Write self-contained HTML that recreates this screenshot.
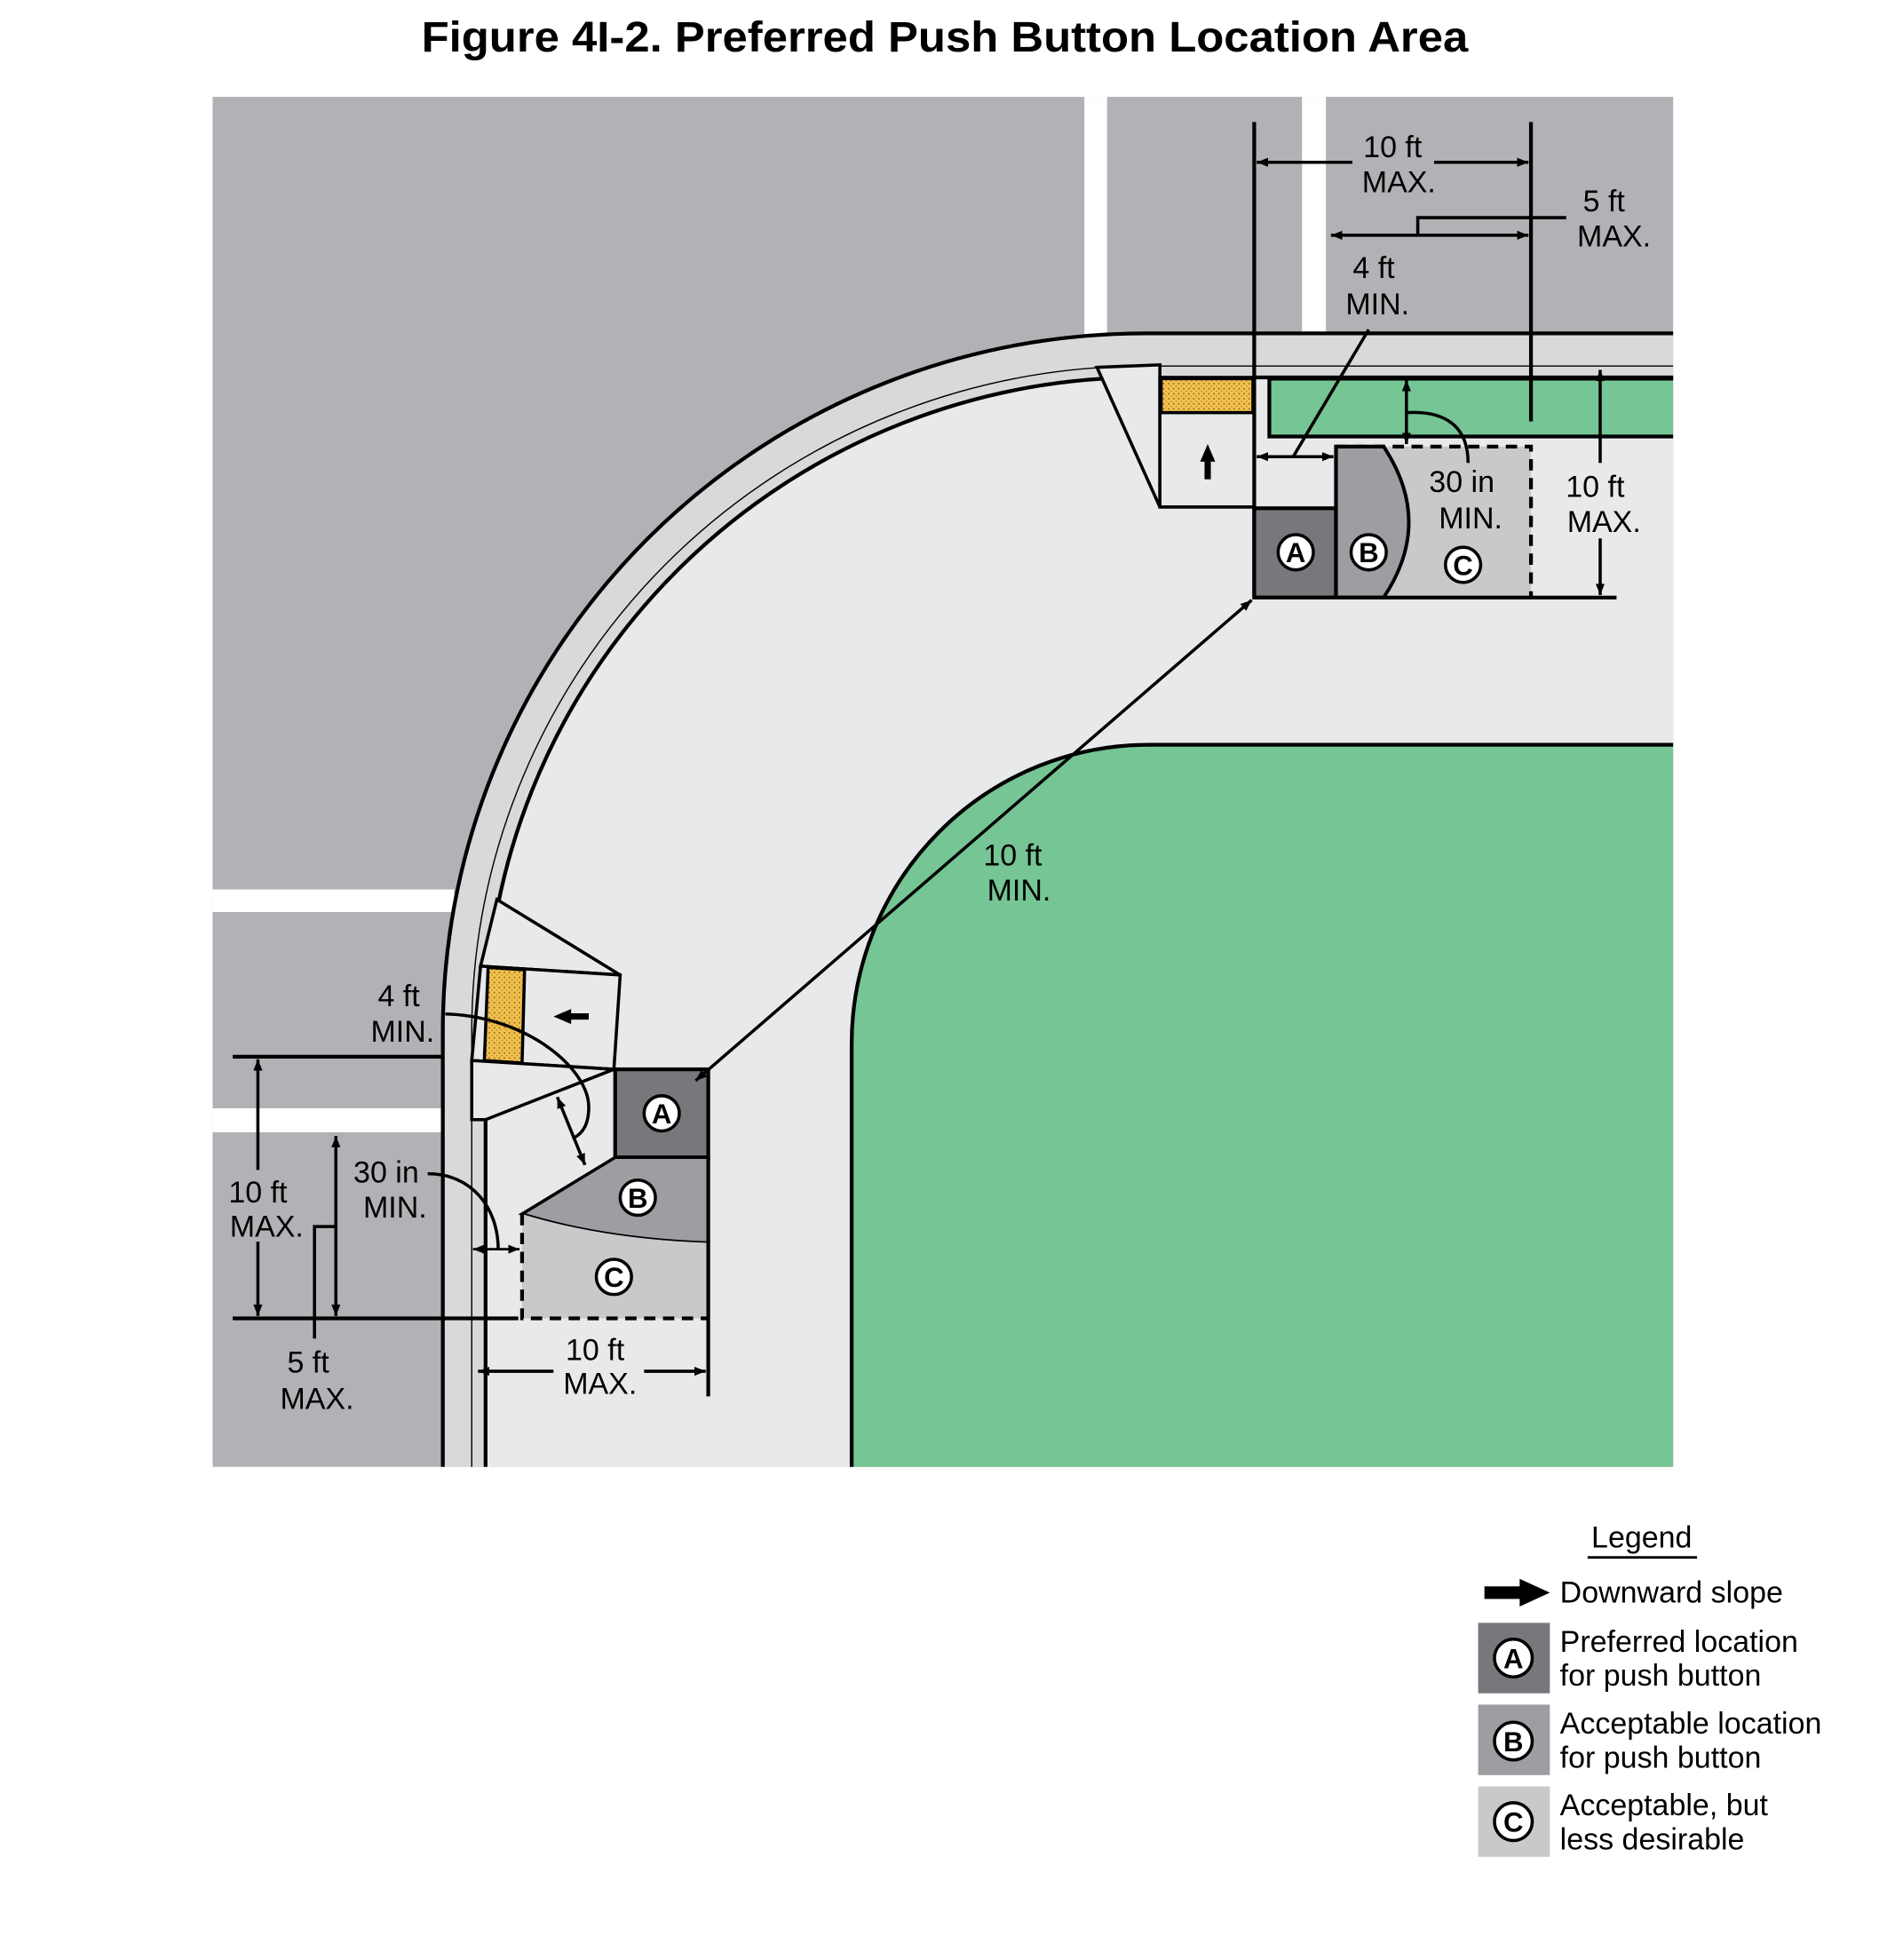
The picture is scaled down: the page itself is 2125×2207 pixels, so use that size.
<!DOCTYPE html>
<html><head><meta charset="utf-8"><style>
html,body{margin:0;padding:0;background:#fff;}
svg{display:block;}
text{font-family:"Liberation Sans",sans-serif;fill:#000;}
</style></head><body>
<svg width="2125" height="2207" viewBox="0 0 1500 1558" preserveAspectRatio="none" xmlns="http://www.w3.org/2000/svg">
<defs>
<marker id="ah" viewBox="0 0 10 10" refX="10" refY="5" markerWidth="9" markerHeight="9" markerUnits="userSpaceOnUse" orient="auto-start-reverse"><path d="M0,1 L10,5 L0,9 Z" fill="#000"/></marker>
<pattern id="dots" width="4" height="4" patternUnits="userSpaceOnUse"><rect width="4" height="4" fill="#f2c14e"/><circle cx="1" cy="1" r="0.7" fill="#8a6a20"/><circle cx="3" cy="3" r="0.6" fill="#b08a30"/></pattern>
</defs>
<text x="751" y="41" font-size="34" font-weight="bold" text-anchor="middle" textLength="832" lengthAdjust="spacingAndGlyphs">Figure 4I-2.  Preferred Push Button Location Area</text>

<!-- road background -->
<rect x="169" y="77" width="1161" height="1089" fill="#b1b2b5"/>
<rect x="862" y="77" width="18" height="190" fill="#fff"/>
<rect x="1035" y="77" width="19" height="190" fill="#fff"/>
<rect x="169" y="707" width="192" height="18" fill="#fff"/>
<rect x="169" y="881" width="185" height="19" fill="#fff"/>

<!-- curb band + sidewalk -->
<path d="M910,265 L1330,265 L1330,1166 L352,1166 L352,820 A558,555 0 0 1 910,265 Z" fill="#d8d9db"/>
<path d="M1330,265 L910,265 A558,555 0 0 0 352,820 L352,1166" fill="none" stroke="#000" stroke-width="3"/>
<path d="M922,300 L1330,300 L1330,1166 L386,1166 L386,820 A524,520 0 0 1 910,300 Z" fill="#e8e9eb"/>
<path d="M386,1166 L386,820 A524,520 0 0 1 910,300 L922,300" fill="none" stroke="#000" stroke-width="3"/>
<path d="M375,1166 L375,820 A535,529 0 0 1 910,291 L1330,291" fill="none" stroke="#000" stroke-width="1"/>
<line x1="996" y1="300" x2="1330" y2="300" stroke="#000" stroke-width="3"/>

<!-- green areas -->
<path d="M1330,301 L1009,301 L1009,347 L1330,347" fill="#76c595" stroke="#000" stroke-width="3"/>
<path d="M677,1166 L677,830 A236,238 0 0 1 913,592 L1330,592 L1330,1166 Z" fill="#76c595"/>
<path d="M677,1166 L677,830 A236,238 0 0 1 913,592 L1330,592" fill="none" stroke="#000" stroke-width="3"/>

<!-- top ramp -->
<path d="M872,292 L922,290 L922,403 Z" fill="#e8e9eb" stroke="#000" stroke-width="2.5"/>
<rect x="922" y="300" width="75" height="103" fill="#e8e9eb" stroke="#000" stroke-width="2.5"/>
<rect x="923" y="301" width="73" height="27" fill="url(#dots)" stroke="#000" stroke-width="2.5"/>
<rect x="998" y="349" width="63" height="54" fill="#e8e9eb"/>
<path d="M960,381 L960,365" stroke="#000" stroke-width="5"/><path d="M954,367 L960,353 L966,367 Z" fill="#000"/>

<!-- top A B C -->
<rect x="997" y="404" width="65" height="71" fill="#77787c" stroke="#000" stroke-width="3"/>
<path d="M1062,355 L1100,355 Q1140,415 1100,475 L1062,475 Z" fill="#9d9ea2" stroke="#000" stroke-width="3"/>
<path d="M1100,355 L1217,355 L1217,475 L1100,475 Q1140,415 1100,355 Z" fill="#c8c9cb"/>
<path d="M1100,475 Q1140,415 1100,355" fill="none" stroke="#000" stroke-width="2.5"/>
<path d="M1062,355 L1217,355 L1217,475" fill="none" stroke="#000" stroke-width="3" stroke-dasharray="9,6"/>
<line x1="997" y1="475" x2="1285" y2="475" stroke="#000" stroke-width="3"/>
<line x1="922" y1="403" x2="997" y2="403" stroke="#000" stroke-width="2.5"/>

<!-- top dimensions -->
<line x1="997" y1="97" x2="997" y2="475" stroke="#000" stroke-width="3"/>
<line x1="1217" y1="97" x2="1217" y2="335" stroke="#000" stroke-width="3"/>
<line x1="999" y1="129" x2="1075" y2="129" stroke="#000" stroke-width="2.5" marker-start="url(#ah)"/>
<line x1="1140" y1="129" x2="1215" y2="129" stroke="#000" stroke-width="2.5" marker-end="url(#ah)"/>
<text x="1107" y="125" font-size="24" text-anchor="middle">10 ft</text>
<text x="1112" y="153" font-size="24" text-anchor="middle">MAX.</text>
<line x1="1058" y1="187" x2="1215" y2="187" stroke="#000" stroke-width="2.5" marker-start="url(#ah)" marker-end="url(#ah)"/>
<path d="M1127,187 L1127,173 L1245,173" fill="none" stroke="#000" stroke-width="2.5"/>
<text x="1275" y="168" font-size="24" text-anchor="middle">5 ft</text>
<text x="1283" y="196" font-size="24" text-anchor="middle">MAX.</text>
<text x="1092" y="221" font-size="24" text-anchor="middle">4 ft</text>
<text x="1095" y="250" font-size="24" text-anchor="middle">MIN.</text>
<line x1="1088" y1="262" x2="1028" y2="363" stroke="#000" stroke-width="2.5"/>
<line x1="999" y1="363" x2="1060" y2="363" stroke="#000" stroke-width="2.5" marker-start="url(#ah)" marker-end="url(#ah)"/>
<line x1="1118" y1="302" x2="1118" y2="353" stroke="#000" stroke-width="2.5" marker-start="url(#ah)" marker-end="url(#ah)"/>
<path d="M1118,328 C1150,326 1167,340 1167,368" fill="none" stroke="#000" stroke-width="2.5"/>
<text x="1162" y="391" font-size="24" text-anchor="middle">30 in</text>
<text x="1169" y="420" font-size="24" text-anchor="middle">MIN.</text>
<line x1="1272" y1="294" x2="1272" y2="368" stroke="#000" stroke-width="2.5" marker-start="url(#ah)"/>
<line x1="1272" y1="428" x2="1272" y2="473" stroke="#000" stroke-width="2.5" marker-end="url(#ah)"/>
<text x="1268" y="395" font-size="24" text-anchor="middle">10 ft</text>
<text x="1275" y="423" font-size="24" text-anchor="middle">MAX.</text>

<!-- left ramp -->
<path d="M395,715 L493,775 L382,768 Z" fill="#e8e9eb" stroke="#000" stroke-width="2.5"/>
<path d="M382,768 L493,775 L488,850 L375,843 Z" fill="#e8e9eb" stroke="#000" stroke-width="2.5"/>
<path d="M388,769 L417,771 L415,845 L385,843 Z" fill="url(#dots)" stroke="#000" stroke-width="2.5"/>
<path d="M452,808 L468,808" stroke="#000" stroke-width="5"/><path d="M454,802 L440,808 L454,814 Z" fill="#000"/>
<path d="M375,843 L488,850 L386,890 L375,890 Z" fill="#e8e9eb" stroke="#000" stroke-width="2.5"/>

<!-- left A B C -->
<rect x="489" y="850" width="74" height="70" fill="#77787c" stroke="#000" stroke-width="3"/>
<path d="M489,920 L563,920 L563,988 Q480,985 415,965 Z" fill="#9d9ea2" stroke="#000" stroke-width="2.5"/>
<path d="M415,965 Q480,985 563,988 L563,1048 L415,1048 Z" fill="#c8c9cb"/>
<path d="M415,965 L415,1048 L563,1048" fill="none" stroke="#000" stroke-width="3" stroke-dasharray="9,6"/>
<line x1="563" y1="920" x2="563" y2="1110" stroke="#000" stroke-width="3"/>

<!-- left dimensions -->
<line x1="185" y1="840" x2="352" y2="840" stroke="#000" stroke-width="3"/>
<line x1="185" y1="1048" x2="412" y2="1048" stroke="#000" stroke-width="3"/>
<text x="317" y="800" font-size="24" text-anchor="middle">4 ft</text>
<text x="320" y="828" font-size="24" text-anchor="middle">MIN.</text>
<path d="M354,806 C420,808 468,850 468,880 C468,895 462,902 455,905" fill="none" stroke="#000" stroke-width="2.5"/>
<line x1="443" y1="872" x2="465" y2="926" stroke="#000" stroke-width="2.5" marker-start="url(#ah)" marker-end="url(#ah)"/>
<line x1="205" y1="842" x2="205" y2="930" stroke="#000" stroke-width="2.5" marker-start="url(#ah)"/>
<line x1="205" y1="987" x2="205" y2="1046" stroke="#000" stroke-width="2.5" marker-end="url(#ah)"/>
<text x="205" y="956" font-size="24" text-anchor="middle">10 ft</text>
<text x="212" y="983" font-size="24" text-anchor="middle">MAX.</text>
<line x1="267" y1="903" x2="267" y2="1046" stroke="#000" stroke-width="2.5" marker-start="url(#ah)" marker-end="url(#ah)"/>
<path d="M267,975 L250,975 L250,1064" fill="none" stroke="#000" stroke-width="2.5"/>
<text x="245" y="1091" font-size="24" text-anchor="middle">5 ft</text>
<text x="252" y="1120" font-size="24" text-anchor="middle">MAX.</text>
<text x="307" y="940" font-size="24" text-anchor="middle">30 in</text>
<text x="314" y="968" font-size="24" text-anchor="middle">MIN.</text>
<path d="M340,933 C375,933 396,960 396,993" fill="none" stroke="#000" stroke-width="2.5"/>
<line x1="376" y1="993" x2="413" y2="993" stroke="#000" stroke-width="2" marker-start="url(#ah)" marker-end="url(#ah)"/>
<line x1="380" y1="1090" x2="440" y2="1090" stroke="#000" stroke-width="2.5" marker-start="url(#ah)"/>
<line x1="512" y1="1090" x2="561" y2="1090" stroke="#000" stroke-width="2.5" marker-end="url(#ah)"/>
<text x="473" y="1081" font-size="24" text-anchor="middle">10 ft</text>
<text x="477" y="1108" font-size="24" text-anchor="middle">MAX.</text>

<!-- diagonal 10 ft MIN -->
<line x1="553" y1="859" x2="995" y2="477" stroke="#000" stroke-width="2.5" marker-start="url(#ah)" marker-end="url(#ah)"/>
<text x="805" y="688" font-size="24" text-anchor="middle">10 ft</text>
<text x="810" y="716" font-size="24" text-anchor="middle">MIN.</text>

<!-- circle labels -->
<g font-weight="bold" font-size="22" text-anchor="middle">
<circle cx="1030" cy="439" r="14" fill="#fff" stroke="#000" stroke-width="2.5"/><text x="1030" y="447">A</text>
<circle cx="1088" cy="439" r="14" fill="#fff" stroke="#000" stroke-width="2.5"/><text x="1088" y="447">B</text>
<circle cx="1163" cy="449" r="14" fill="#fff" stroke="#000" stroke-width="2.5"/><text x="1163" y="457">C</text>
<circle cx="526" cy="885" r="14" fill="#fff" stroke="#000" stroke-width="2.5"/><text x="526" y="893">A</text>
<circle cx="507" cy="952" r="14" fill="#fff" stroke="#000" stroke-width="2.5"/><text x="507" y="960">B</text>
<circle cx="488" cy="1015" r="14" fill="#fff" stroke="#000" stroke-width="2.5"/><text x="488" y="1023">C</text>
</g>

<!-- legend -->
<text x="1305" y="1230" font-size="24" text-anchor="middle">Legend</text>
<line x1="1262" y1="1238" x2="1349" y2="1238" stroke="#000" stroke-width="2"/>
<rect x="1180" y="1261" width="30" height="10" fill="#000"/><path d="M1208,1255 L1232,1266 L1208,1277 Z" fill="#000"/>
<text x="1240" y="1274" font-size="24">Downward slope</text>
<rect x="1175" y="1290" width="57" height="56" fill="#77787c"/>
<rect x="1175" y="1355" width="57" height="56" fill="#9d9ea2"/>
<rect x="1175" y="1420" width="57" height="56" fill="#c8c9cb"/>
<g font-weight="bold" font-size="22" text-anchor="middle">
<circle cx="1203" cy="1318" r="15" fill="#fff" stroke="#000" stroke-width="2.5"/><text x="1203" y="1326">A</text>
<circle cx="1203" cy="1384" r="15" fill="#fff" stroke="#000" stroke-width="2.5"/><text x="1203" y="1392">B</text>
<circle cx="1203" cy="1448" r="15" fill="#fff" stroke="#000" stroke-width="2.5"/><text x="1203" y="1456">C</text>
</g>
<text x="1240" y="1313" font-size="24">Preferred location</text>
<text x="1240" y="1340" font-size="24">for push button</text>
<text x="1240" y="1378" font-size="24">Acceptable location</text>
<text x="1240" y="1405" font-size="24">for push button</text>
<text x="1240" y="1443" font-size="24">Acceptable, but</text>
<text x="1240" y="1470" font-size="24">less desirable</text>
</svg>
</body></html>
